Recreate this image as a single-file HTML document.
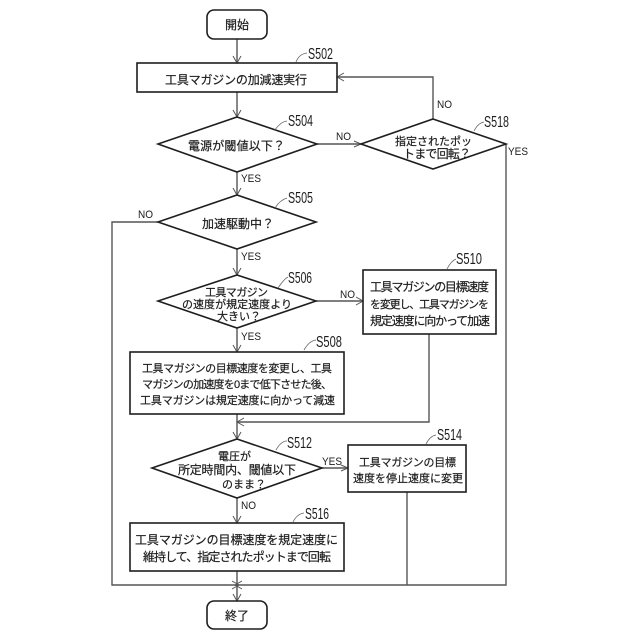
<!DOCTYPE html>
<html lang="ja"><head><meta charset="utf-8"><title>Flowchart</title>
<style>
html,body{margin:0;padding:0;background:#fff;width:640px;height:640px;overflow:hidden}
svg{display:block;filter:blur(.3px)}
.s{fill:none;stroke:#1e1e1e;stroke-width:1.6}
.c{fill:none;stroke:#555;stroke-width:1.4}
.a{fill:none;stroke:#555;stroke-width:1}
.l{fill:none;stroke:#666;stroke-width:.8}
text{fill:#1c1c1c}
.t{font-family:"Liberation Sans","Noto Sans CJK JP",sans-serif;font-size:12px;stroke:#1c1c1c;stroke-width:.2}
.m{font-size:11px}
.n{font-family:"Liberation Sans",sans-serif;font-size:15.5px}
.y{font-family:"Liberation Sans",sans-serif;font-size:11px}
</style></head><body>
<svg width="640" height="640" viewBox="0 0 640 640" xmlns="http://www.w3.org/2000/svg">
<!-- connectors -->
<path class="c" d="M237 39V63M237 92V117M237 172V195M237 249V275M237 328V352M237 414V439M237 498V523M237 571V601"/>
<path class="c" d="M317 144H361M433 119V77H337M506 144V585H112V222H158M316 301H363M429 334V422H237M322 468H348M407 492V585"/>
<!-- arrowheads -->
<path class="a" d="M233 56L237 63L241 56M233 110L237 117L241 110M233 188L237 195L241 188M233 268L237 275L241 268M233 345L237 352L241 345M233 432L237 439L241 432M233 516L237 523L241 516M233 594L237 601L241 594"/>
<path class="a" d="M344 73L337 77L344 81M354 141L361 144L354 147M356 297L363 301L356 305M244 418L237 422L244 426M341 465L348 468L341 471M232 581L239 585L232 589M242 581L235 585L242 589"/>
<!-- shapes -->
<rect class="s" x="207" y="10" width="60" height="29" rx="7"/>
<rect class="s" x="137" y="63" width="200" height="29"/>
<polygon class="s" points="237,117 317,144 237,172 158,144"/>
<polygon class="s" points="433,119 506,144 433,169 361,144"/>
<polygon class="s" points="237,195 316,222 237,249 158,222"/>
<polygon class="s" points="237,275 316,301 237,328 158,301"/>
<rect class="s" x="363" y="270" width="133" height="64"/>
<rect class="s" x="130" y="352" width="214" height="62"/>
<polygon class="s" points="237,439 322,468 237,498 152,468"/>
<rect class="s" x="348" y="445" width="118" height="47"/>
<rect class="s" x="130" y="523" width="214" height="48"/>
<rect class="s" x="207" y="601" width="60" height="28" rx="7"/>
<!-- leader curves -->
<path class="l" d="M296 62Q299 54 307 53M275 130Q280 122 287 121M474 131Q478 123 484 122M275 208Q280 200 287 198M278 288Q284 279 288 277M304 350Q309 341 316 340M447 269Q451 261 456 259M276 450Q281 441 287 441M426 444Q430 436 436 435M293 522Q297 514 304 513"/>
<!-- main text -->
<text class="t" x="225" y="29" textLength="24">開始</text>
<text class="t" x="165" y="84" textLength="142">工具マガジンの加減速実行</text>
<text class="t" x="188" y="150" textLength="97">電源が閾値以下？</text>
<text class="t m" x="395" y="145" textLength="77">指定されたポッ</text>
<text class="t" x="403" y="158" textLength="68">トまで回転？</text>
<text class="t" x="202" y="228" textLength="72">加速駆動中？</text>
<text class="t m" x="205" y="296" textLength="63">工具マガジン</text>
<text class="t m" x="182" y="308" textLength="110">の速度が規定速度より</text>
<text class="t m" x="217" y="320" textLength="44">大きい？</text>
<text class="t" x="370" y="291" textLength="119">工具マガジンの目標速度</text>
<text class="t m" x="370" y="308" textLength="119">を変更し、工具マガジンを</text>
<text class="t" x="370" y="325" textLength="120">規定速度に向かって加速</text>
<text class="t m" x="142" y="372" textLength="190">工具マガジンの目標速度を変更し、工具</text>
<text class="t m" x="142" y="388" textLength="190">マガジンの加速度を0まで低下させた後、</text>
<text class="t m" x="140" y="404" textLength="195">工具マガジンは規定速度に向かって減速</text>
<text class="t m" x="218" y="460" textLength="33">電圧が</text>
<text class="t" x="178" y="474" textLength="118">所定時間内、閾値以下</text>
<text class="t m" x="222" y="488" textLength="44">のまま？</text>
<text class="t m" x="359" y="466" textLength="97">工具マガジンの目標</text>
<text class="t m" x="353" y="482" textLength="110">速度を停止速度に変更</text>
<text class="t" x="135" y="544" textLength="203">工具マガジンの目標速度を規定速度に</text>
<text class="t" x="143" y="561" textLength="188">維持して、指定されたポットまで回転</text>
<text class="t" x="225" y="620" textLength="24">終了</text>
<!-- step labels -->
<text class="n" x="308" y="59" textLength="25" lengthAdjust="spacingAndGlyphs">S502</text>
<text class="n" x="288" y="126" textLength="25" lengthAdjust="spacingAndGlyphs">S504</text>
<text class="n" x="484" y="127" textLength="25" lengthAdjust="spacingAndGlyphs">S518</text>
<text class="n" x="288" y="203" textLength="25" lengthAdjust="spacingAndGlyphs">S505</text>
<text class="n" x="288" y="283" textLength="24" lengthAdjust="spacingAndGlyphs">S506</text>
<text class="n" x="316" y="347" textLength="26" lengthAdjust="spacingAndGlyphs">S508</text>
<text class="n" x="456" y="264" textLength="26" lengthAdjust="spacingAndGlyphs">S510</text>
<text class="n" x="287" y="448" textLength="25" lengthAdjust="spacingAndGlyphs">S512</text>
<text class="n" x="437" y="440" textLength="25" lengthAdjust="spacingAndGlyphs">S514</text>
<text class="n" x="305" y="519" textLength="24" lengthAdjust="spacingAndGlyphs">S516</text>
<!-- branch labels -->
<text class="y" x="336" y="140" textLength="15" lengthAdjust="spacingAndGlyphs">NO</text>
<text class="y" x="437" y="108" textLength="15" lengthAdjust="spacingAndGlyphs">NO</text>
<text class="y" x="508" y="155" textLength="20" lengthAdjust="spacingAndGlyphs">YES</text>
<text class="y" x="241" y="182" textLength="20" lengthAdjust="spacingAndGlyphs">YES</text>
<text class="y" x="138" y="218" textLength="15" lengthAdjust="spacingAndGlyphs">NO</text>
<text class="y" x="241" y="260" textLength="20" lengthAdjust="spacingAndGlyphs">YES</text>
<text class="y" x="340" y="298" textLength="15" lengthAdjust="spacingAndGlyphs">NO</text>
<text class="y" x="241" y="340" textLength="20" lengthAdjust="spacingAndGlyphs">YES</text>
<text class="y" x="322" y="465" textLength="20" lengthAdjust="spacingAndGlyphs">YES</text>
<text class="y" x="241" y="509" textLength="15" lengthAdjust="spacingAndGlyphs">NO</text>
</svg>
</body></html>
